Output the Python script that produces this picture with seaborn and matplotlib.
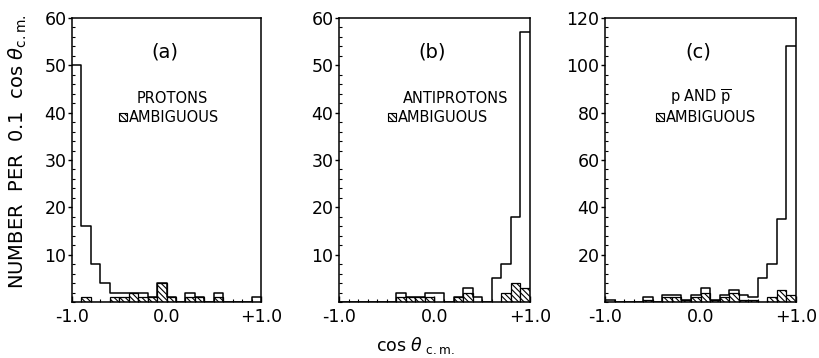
import numpy as np
import pandas as pd
import matplotlib
matplotlib.use("Agg")
import matplotlib.pyplot as plt
from matplotlib.patches import Rectangle
from matplotlib.ticker import MultipleLocator, FixedLocator, FixedFormatter
import seaborn as sns

sns.set_style("ticks")
plt.rcParams['font.family'] = ['DejaVu Sans']
plt.rcParams['mathtext.fontset'] = 'dejavusans'
plt.rcParams['hatch.linewidth'] = 0.8
for k in ['text.color', 'axes.labelcolor', 'xtick.color', 'ytick.color', 'axes.edgecolor']:
    plt.rcParams[k] = 'black'

# ---- data (counts per 0.1 in cos theta_cm, bins from -1.0 to +1.0) ----
bin_centers = [-0.95, -0.85, -0.75, -0.65, -0.55, -0.45, -0.35, -0.25, -0.15, -0.05,
               0.05, 0.15, 0.25, 0.35, 0.45, 0.55, 0.65, 0.75, 0.85, 0.95]

protons_total = [50, 16, 8, 4, 2, 2, 2, 2, 1, 4, 1, 0, 2, 1, 0, 2, 0, 0, 0, 1]
protons_ambig = [0, 1, 0, 0, 1, 1, 2, 1, 1, 4, 1, 0, 1, 1, 0, 1, 0, 0, 0, 0]
anti_total = [0, 0, 0, 0, 0, 0, 2, 1, 1, 2, 2, 0, 1, 3, 1, 0, 5, 8, 18, 57]
anti_ambig = [0, 0, 0, 0, 0, 0, 1, 1, 1, 1, 0, 0, 1, 2, 0, 0, 0, 2, 4, 3]
both_total = [1, 0, 0, 0, 2, 0, 3, 3, 1, 3, 6, 1, 3, 5, 3, 2, 10, 16, 35, 108]
both_ambig = [0, 0, 0, 0, 1, 0, 2, 2, 1, 2, 4, 1, 2, 4, 1, 1, 0, 2, 5, 3]

panel_tags = ["(a)", "(b)", "(c)"]
legend_first = ["PROTONS", "ANTIPROTONS", r"p AND $\overline{\mathrm{p}}$"]
legend_second = "AMBIGUOUS"
x_tick_values = [-1.0, 0.0, 1.0]
x_tick_labels = ["-1.0", "0.0", "+1.0"]
y_tops = [60, 60, 120]
y_major = [10, 10, 20]

panels = [
    (protons_total, protons_ambig),
    (anti_total, anti_ambig),
    (both_total, both_ambig),
]

W, H = 819, 358
fig = plt.figure(figsize=(W / 100, H / 100), dpi=100)

boxes_px = [(72, 189), (339, 191), (605, 191)]
top_px, bot_px = 18, 302

legend_x = [(0.344, 0.250), (0.334, 0.258), (0.340, 0.268)]
HATCH = "\\\\\\\\\\\\"

for i, ((tot, amb), (x0, w)) in enumerate(zip(panels, boxes_px)):
    df = pd.DataFrame({"cos": bin_centers, "total": tot, "ambig": amb})
    ax = fig.add_axes([x0 / W, (H - bot_px) / H, w / W, (bot_px - top_px) / H])
    sns.histplot(data=df, x="cos", weights="total", binwidth=0.1, binrange=(-1.0, 1.0),
                 element="step", fill=False, color="black", linewidth=1.1, ax=ax)
    sns.histplot(data=df, x="cos", weights="ambig", binwidth=0.1, binrange=(-1.0, 1.0),
                 element="bars", fill=True, facecolor="white", edgecolor="black",
                 hatch=HATCH, linewidth=0.9, alpha=1, ax=ax)
    ax.set_xlim(-1.0, 1.0)
    ax.set_ylim(0, y_tops[i])
    ax.set_xlabel("")
    ax.set_ylabel("")
    for s in ax.spines.values():
        s.set_visible(True)
        s.set_linewidth(1.1)
        s.set_color("black")
    ax.xaxis.set_major_locator(FixedLocator(x_tick_values))
    ax.xaxis.set_major_formatter(FixedFormatter(x_tick_labels))
    ax.xaxis.set_minor_locator(MultipleLocator(0.1))
    yt = list(range(y_major[i], y_tops[i] + 1, y_major[i]))
    ax.yaxis.set_major_locator(FixedLocator(yt))
    ax.yaxis.set_major_formatter(FixedFormatter([str(v) for v in yt]))
    ax.yaxis.set_minor_locator(MultipleLocator(y_major[i] / 5))
    ax.tick_params(axis='x', which='major', direction='in', length=4, width=1,
                   labelsize=12.5, pad=4, colors='black')
    ax.tick_params(axis='x', which='minor', direction='in', length=2.5, width=0.8,
                   colors='black')
    ax.tick_params(axis='y', which='major', direction='out', length=3, width=1,
                   labelsize=12.5, pad=1, colors='black')
    ax.tick_params(axis='y', which='minor', direction='in', length=2.5, width=0.8,
                   colors='black')

    ax.text(0.49, 0.88, panel_tags[i], transform=ax.transAxes, fontsize=14,
            ha='center', va='center', color='black')
    lx1, lsq = legend_x[i]
    ax.text(lx1, 0.718, legend_first[i], transform=ax.transAxes, fontsize=10.5,
            ha='left', va='center', color='black')
    ax.add_patch(Rectangle((lsq, 0.637), 0.040, 0.029, transform=ax.transAxes,
                           facecolor='white', edgecolor='black', lw=0.8,
                           hatch=HATCH))
    ax.text(lsq + 0.050, 0.651, legend_second, transform=ax.transAxes,
            fontsize=10.5, ha='left', va='center', color='black')

fig.text(18 / W, 1 - 152 / H, r"NUMBER  PER  0.1  cos $\theta_{\mathrm{c.m.}}$",
         rotation=90, ha='center', va='center', fontsize=14, color='black')
fig.text(415 / W, 1 - 346 / H, r"cos $\theta_{\ \mathrm{c.m.}}$",
         ha='center', va='center', fontsize=12.5, color='black')

fig.savefig("out.png", dpi=100, facecolor="white")
